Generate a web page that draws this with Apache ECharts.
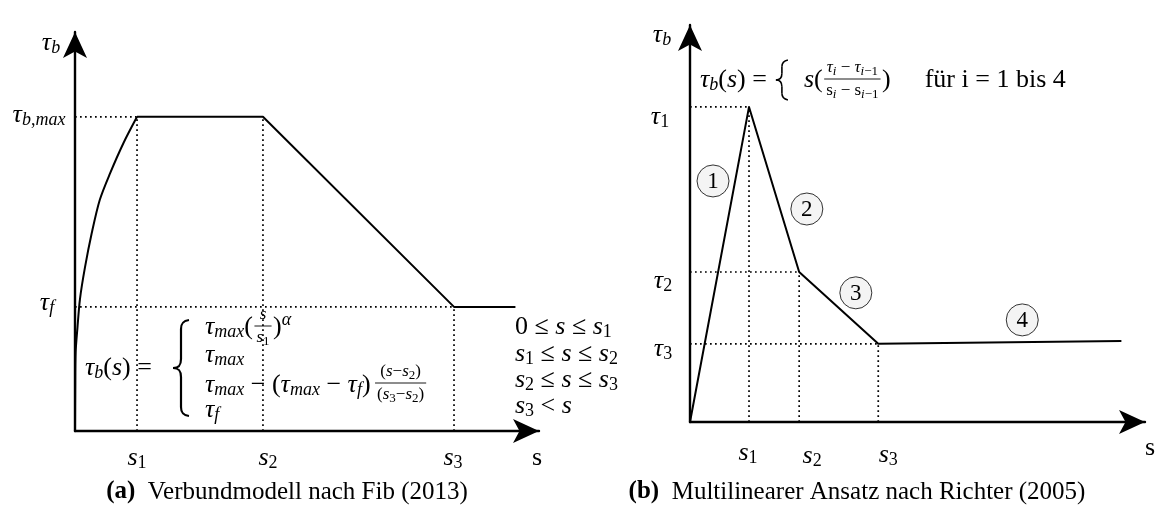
<!DOCTYPE html>
<html>
<head>
<meta charset="utf-8">
<script src="https://cdn.jsdelivr.net/npm/echarts@6/dist/echarts.min.js"></script>
<style>
  html, body { margin: 0; padding: 0; background: #fff; }
  #chart { width: 1158px; height: 515px; }
</style>
</head>
<body>
<div id="chart"></div>
<script>
// ---- (a) bond model after fib (2013) ----
const fibS = [1, 3.03, 6.11, 7.10];          // s1, s2, s3, end of residual branch
const fibTau = [10, 3.95];                    // tau_max, tau_f
const fibRiseS = [0, 0.003, 0.01, 0.04, 0.08, 0.16, 0.27, 0.40, 0.565, 0.78, 1];
const fibRiseTau = [0, 1.3, 2.5, 3.3, 4.2, 5.2, 6.3, 7.36, 8.2, 9.16, 10];
const fibAxisMax = [7.48, 12.7];              // s, tau_b
const fibSLabels = ['s_1', 's_2', 's_3'];
const fibTauLabels = ['τ_{b,max}', 'τ_f'];

// ---- (b) multilinear approach after Richter (2005) ----
const richterS = [0, 1, 1.85, 3.19, 7.31];
const richterTau = [0, 10, 4.76, 2.48, 2.57];
const richterAxisMax = [7.71, 12.6];
const richterSLabels = ['s_1', 's_2', 's_3'];
const richterTauLabels = ['τ_1', 'τ_2', 'τ_3'];
const segmentNames = ['1', '2', '3', '4'];
const segmentS = [0.39, 1.98, 2.81, 5.63];
const segmentTau = [7.65, 6.76, 4.10, 3.24];

const captions = ['Verbundmodell nach Fib (2013)', 'Multilinearer Ansatz nach Richter (2005)'];

// ---- typography helpers ----
const SERIF = 'Liberation Serif';
function richSet(pre, base, sub, lh) {
  const r = {};
  const mk = (size, italic, pad) => {
    const o = { fontFamily: SERIF, fontSize: size, fontStyle: italic ? 'italic' : 'normal',
      color: '#000', fill: '#000', lineHeight: lh };
    if (pad) o.padding = pad;
    return o;
  };
  const dn = Math.round(sub * 0.6), up = Math.round(sub * 0.8);
  r[pre + 'i'] = mk(base, true);
  r[pre + 'r'] = mk(base, false);
  r[pre + 'si'] = mk(sub, true, [dn, 0, 0, 0]);
  r[pre + 'sr'] = mk(sub, false, [dn, 0, 0, 0]);
  r[pre + 'pi'] = mk(sub, true, [0, 0, up, 0]);
  r[pre + 'pr'] = mk(sub, false, [0, 0, up, 0]);
  return r;
}
const RICH = Object.assign({},
  richSet('', 26, 18, 34),
  richSet('f', 17, 13, 22),
  {
    cb: { fontFamily: SERIF, fontSize: 25, fontWeight: 'bold', color: '#000', fill: '#000' },
    cn: { fontFamily: SERIF, fontSize: 25, color: '#000', fill: '#000' }
  });

// turn a small TeX-like string (with _ and ^) into rich text tokens
function m(src, pre) {
  pre = pre || '';
  let out = '';
  const emit = (txt, lv) => {
    let run = '', cls = null;
    for (const ch of txt) {
      const c = /[A-Za-z\u03b1-\u03c9]/.test(ch) ? 'i' : 'r';
      if (cls !== null && c !== cls) { out += '{' + pre + lv + cls + '|' + run + '}'; run = ''; }
      cls = c; run += ch;
    }
    if (run) out += '{' + pre + lv + cls + '|' + run + '}';
  };
  let i = 0;
  while (i < src.length) {
    const ch = src[i];
    if (ch === '_' || ch === '^') {
      let j = i + 1, t;
      if (src[j] === '{') { const k = src.indexOf('}', j); t = src.slice(j + 1, k); i = k + 1; }
      else { t = src[j]; i = j + 1; }
      emit(t, ch === '_' ? 's' : 'p');
    } else {
      let j = i;
      while (j < src.length && src[j] !== '_' && src[j] !== '^') j++;
      emit(src.slice(i, j), '');
      i = j;
    }
  }
  return out;
}

// width of a rich string, so formula pieces can be placed one after another
const measureCtx = document.createElement('canvas').getContext('2d');
function measure(rich) {
  let w = 0;
  rich.replace(/\{(\w+)\|([^}]*)\}/g, (all, k, t) => {
    const s = RICH[k];
    measureCtx.font = (s.fontStyle || 'normal') + ' ' + (s.fontWeight || 'normal') + ' ' +
      s.fontSize + 'px "' + s.fontFamily + '"';
    w += measureCtx.measureText(t).width;
    return '';
  });
  return w;
}

function txt(x, y, text, align) {
  return { type: 'text', x: x, y: y, z: 10,
    style: { text: text, rich: RICH, align: align || 'left', verticalAlign: 'middle', fill: '#000' } };
}
function frac(cx, cy, num, den, w) {
  return [
    txt(cx, cy - 11, num, 'center'),
    { type: 'line', z: 10, shape: { x1: cx - w / 2, y1: cy, x2: cx + w / 2, y2: cy },
      style: { stroke: '#000', lineWidth: 0.9 } },
    txt(cx, cy + 12, den, 'center')
  ];
}
function brace(xTip, yTop, yBot, w, lw) {
  const xArm = xTip + w, xs = xTip + w * 0.5, ym = (yTop + yBot) / 2;
  const r = Math.min(9, (yBot - yTop) / 6);
  const st = { stroke: '#000', lineWidth: lw, fill: 'none' };
  return [
    { type: 'bezierCurve', shape: { x1: xArm, y1: yTop, cpx1: xs + 1, cpy1: yTop + 1, cpx2: xs, cpy2: yTop + r * 0.5, x2: xs, y2: yTop + r }, style: st },
    { type: 'line', shape: { x1: xs, y1: yTop + r, x2: xs, y2: ym - r }, style: st },
    { type: 'bezierCurve', shape: { x1: xs, y1: ym - r, cpx1: xs, cpy1: ym - r * 0.3, cpx2: xs - 2, cpy2: ym, x2: xTip, y2: ym }, style: st },
    { type: 'bezierCurve', shape: { x1: xTip, y1: ym, cpx1: xs - 2, cpy1: ym, cpx2: xs, cpy2: ym + r * 0.3, x2: xs, y2: ym + r }, style: st },
    { type: 'line', shape: { x1: xs, y1: ym + r, x2: xs, y2: yBot - r }, style: st },
    { type: 'bezierCurve', shape: { x1: xs, y1: yBot - r, cpx1: xs, cpy1: yBot - r * 0.5, cpx2: xs + 1, cpy2: yBot - 1, x2: xArm, y2: yBot }, style: st }
  ];
}
// lay formula pieces out left to right on one baseline
function row(x, y, parts) {
  const els = [];
  for (const p of parts) {
    if (typeof p === 'string') { els.push(txt(x, y, p)); x += measure(p); }
    else if (p.gap) { x += p.gap; }
    else if (p.num) {
      const w = Math.max(measure(p.num), measure(p.den)) + 4;
      x += 1.5;
      els.push(...frac(x + w / 2, y + (p.dy || 0), p.num, p.den, w));
      x += w + 1.5;
    } else if (p.brace) {
      els.push(...brace(x, y - p.brace / 2, y + p.brace / 2, p.w, p.lw));
      x += p.w;
    }
  }
  return els;
}

// ---- axes ----
function axisPair(idx, max) {
  const line = { show: true, onZero: false, symbol: ['none', 'arrow'], symbolSize: [18, 26],
    lineStyle: { color: '#000', width: 2.4 } };
  const common = { gridIndex: idx, type: 'value', min: 0, axisLine: line,
    axisTick: { show: false }, axisLabel: { show: false }, splitLine: { show: false } };
  return [Object.assign({}, common, { max: max[0] }), Object.assign({}, common, { max: max[1] })];
}
const [fx, fy] = axisPair(0, fibAxisMax);
const [rx, ry] = axisPair(1, richterAxisMax);

const DOT = { color: '#000', width: 1.7, type: [1.7, 3.3] };
function dotted(idx, pts) {
  return { type: 'line', xAxisIndex: idx, yAxisIndex: idx, data: pts, symbol: 'none',
    lineStyle: DOT, silent: true, z: 1 };
}
function solid(idx, pts, smooth) {
  return { type: 'line', xAxisIndex: idx, yAxisIndex: idx, data: pts, symbol: 'none',
    smooth: smooth || false,
    lineStyle: { color: '#000', width: 2, join: 'round' }, silent: true, z: 3 };
}
function labels(idx, items) {
  return { type: 'scatter', xAxisIndex: idx, yAxisIndex: idx, symbolSize: 0, silent: true, z: 5,
    clip: false, itemStyle: { opacity: 1 },
    data: items.map(it => ({ value: it.v, name: it.t,
      label: { show: true, position: 'inside', offset: it.o, formatter: p => p.name, rich: RICH } })) };
}

const series = [];
// (a) guide lines
series.push(dotted(0, [[0, fibTau[0]], [fibS[0], fibTau[0]]]));
series.push(dotted(0, [[fibS[0], 0], [fibS[0], fibTau[0]]]));
series.push(dotted(0, [[fibS[1], 0], [fibS[1], fibTau[0]]]));
series.push(dotted(0, [[0, fibTau[1]], [fibS[2], fibTau[1]]]));
series.push(dotted(0, [[fibS[2], 0], [fibS[2], fibTau[1]]]));
// (a) bond-slip curve: ascending branch, then plateau, softening and residual branch
series.push(solid(0, fibRiseS.map((s, i) => [s, fibRiseTau[i]]), 0.3));
series.push(solid(0, [[fibS[0], fibTau[0]], [fibS[1], fibTau[0]], [fibS[2], fibTau[1]], [fibS[3], fibTau[1]]]));
series.push(labels(0, [
  { v: [0, fibAxisMax[1]], t: m('τ_b'), o: [-24, 11] },
  { v: [0, fibTau[0]], t: m(fibTauLabels[0]), o: [-36, -2] },
  { v: [0, fibTau[1]], t: m(fibTauLabels[1]), o: [-28, -4] },
  { v: [fibS[0], 0], t: m(fibSLabels[0]), o: [0, 27] },
  { v: [fibS[1], 0], t: m(fibSLabels[1]), o: [5, 27] },
  { v: [fibS[2], 0], t: m(fibSLabels[2]), o: [-1, 27] },
  { v: [fibAxisMax[0], 0], t: '{r|s}', o: [-2, 27] }
]));

// (b) guide lines
for (let k = 1; k <= 3; k++) {
  series.push(dotted(1, [[0, richterTau[k]], [richterS[k], richterTau[k]]]));
  series.push(dotted(1, [[richterS[k], 0], [richterS[k], richterTau[k]]]));
}
series.push(solid(1, richterS.map((s, i) => [s, richterTau[i]])));
series.push({
  type: 'scatter', xAxisIndex: 1, yAxisIndex: 1, symbol: 'circle', symbolSize: 32, silent: true, z: 6,
  itemStyle: { color: '#f4f4f4', borderColor: '#333', borderWidth: 1, opacity: 1 },
  label: { show: true, position: 'inside', formatter: p => p.name,
    fontFamily: SERIF, fontSize: 23, color: '#000', offset: [0, 1] },
  data: segmentNames.map((n, i) => ({ name: n, value: [segmentS[i], segmentTau[i]] }))
});
series.push(labels(1, [
  { v: [0, richterAxisMax[1]], t: m('τ_b'), o: [-28, 10] },
  { v: [0, richterTau[1]], t: m(richterTauLabels[0]), o: [-30, 10] },
  { v: [0, richterTau[2]], t: m(richterTauLabels[1]), o: [-27, 9] },
  { v: [0, richterTau[3]], t: m(richterTauLabels[2]), o: [-27, 5] },
  { v: [richterS[1], 0], t: m(richterSLabels[0]), o: [-1, 31] },
  { v: [richterS[2], 0], t: m(richterSLabels[1]), o: [13, 34] },
  { v: [richterS[3], 0], t: m(richterSLabels[2]), o: [10, 33] },
  { v: [richterAxisMax[0], 0], t: '{r|s}', o: [5, 26] }
]));

// ---- formulas and captions ----
const graphic = [].concat(
  // (a) piecewise definition
  row(85, 368, [m('τ_b(s) =')]),
  brace(173, 320, 416, 16, 2.2),
  row(205, 327, [m('τ_{max}('), { num: m('s', 'f'), den: m('s_1', 'f'), dy: -1 }, m(')^α')]),
  row(205, 355, [m('τ_{max}')]),
  row(205, 385, [m('τ_{max} − (τ_{max} − τ_f)'), { gap: 3 },
    { num: m('(s−s_2)', 'f'), den: m('(s_3−s_2)', 'f'), dy: -2 }]),
  row(205, 410, [m('τ_f')]),
  row(515, 327, [m('0 ≤ s ≤ s_1')]),
  row(515, 354, [m('s_1 ≤ s ≤ s_2')]),
  row(515, 380, [m('s_2 ≤ s ≤ s_3')]),
  row(515, 406, [m('s_3 < s')]),
  // (b) segment-wise definition
  row(700, 80, [m('τ_b(s) ='), { gap: 9 }, { brace: 40, w: 12, lw: 1.6 }, { gap: 16 }, m('s('),
    { num: m('τ_i − τ_{i−1}', 'f'), den: '{fr|s}{fsi|i}{fr| − s}{fsi|i}{fsr|−1}', dy: -1 },
    '{r|)}', { gap: 34 }, '{r|für i = 1 bis 4}']),
  // captions
  [txt(287, 492, '{cb|(a)}{cn|  ' + captions[0] + '}', 'center')],
  [txt(857, 492, '{cb|(b)}{cn|  ' + captions[1] + '}', 'center')]
);

const chart = echarts.init(document.getElementById('chart'), null, { renderer: 'canvas' });
chart.setOption({
  animation: false,
  backgroundColor: '#fff',
  grid: [
    { left: 75, top: 32, width: 464, height: 399 },
    { left: 690, top: 25, width: 455, height: 397 }
  ],
  xAxis: [fx, rx],
  yAxis: [fy, ry],
  series: series,
  graphic: graphic
});
</script>
</body>
</html>
